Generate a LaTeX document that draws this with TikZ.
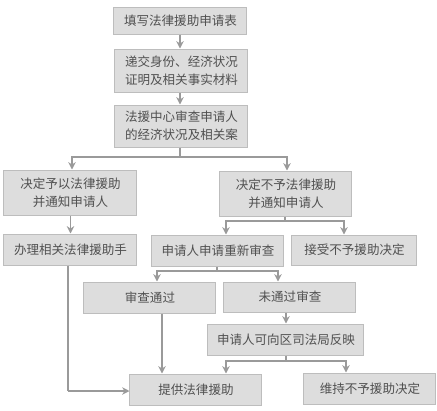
\documentclass[tikz,border=0pt]{standalone}
\usepackage{fontspec}
\setmainfont{Noto Sans CJK SC}
\usetikzlibrary{arrows.meta,calc}
\definecolor{boxfill}{HTML}{DDDDDD}
\definecolor{boxline}{HTML}{BDBDBD}
\definecolor{linec}{HTML}{9A9A9A}
\definecolor{txt}{HTML}{505050}
\begin{document}
\begin{tikzpicture}[x=0.75pt,y=-0.75pt,
  box/.style={draw=boxline,fill=boxfill,line width=0.75pt,inner sep=0pt,
    font=\fontsize{9.4pt}{13.5pt}\selectfont,text=txt,align=center},
  conn/.style={draw=linec,line width=0.9pt},
  arr/.style={conn,-{Stealth[length=5.5pt,width=5.5pt,inset=1.8pt]}}]
\useasboundingbox[fill=white] (0,0) rectangle (437,411);
\node[box,minimum width=99.75pt,minimum height=20.25pt] (b1) at (180.5,20.5) {填写法律援助申请表};
\node[box,minimum width=99.75pt,minimum height=32.25pt] (b2) at (181.5,70.5) {递交身份、经济状况\\证明及相关事实材料};
\node[box,minimum width=99.75pt,minimum height=31.5pt] (b3) at (181.5,126) {法援中心审查申请人\\的经济状况及相关案};
\node[box,minimum width=99.75pt,minimum height=33.75pt] (b4) at (70.5,192.5) {决定予以法律援助\\并通知申请人};
\node[box,minimum width=99pt,minimum height=33.75pt] (b5) at (286,193.5) {决定不予法律援助\\并通知申请人};
\node[box,minimum width=99.75pt,minimum height=23.25pt] (b6) at (70.5,249.5) {办理相关法律援助手};
\node[box,minimum width=99pt,minimum height=23.25pt] (b7) at (218,250.5) {申请人申请重新审查};
\node[box,minimum width=93.75pt,minimum height=22.5pt] (b8) at (354.5,250) {接受不予援助决定};
\node[box,minimum width=99pt,minimum height=23.25pt] (b9) at (150,297.5) {审查通过};
\node[box,minimum width=99pt,minimum height=22.5pt] (b10) at (290,297) {未通过审查};
\node[box,minimum width=117pt,minimum height=23.25pt] (b11) at (286,339.5) {申请人可向区司法局反映};
\node[box,minimum width=99pt,minimum height=23.25pt] (b12) at (196,389.5) {提供法律援助};
\node[box,minimum width=99pt,minimum height=23.25pt] (b13) at (370,388.5) {维持不予援助决定};
% junctions
\coordinate (j1) at (180,157);
\coordinate (j2) at (285,221);
\coordinate (j3) at (217,271);
\coordinate (j4) at (286,361);
\coordinate (j5) at (68,391);
% connectors
\draw[arr] ($(b1.south)+(-0.5,0)$) -- ($(b2.north)+(-1.5,0)$);
\draw[arr] ($(b2.south)+(-1.5,0)$) -- ($(b3.north)+(-1.5,0)$);
\draw[conn] ($(b3.south)+(-1.5,0)$) -- (j1);
\draw[arr] (j1) -| ($(b4.north)+(1.5,0)$);
\draw[arr] (j1) -| ($(b5.north)+(1,0)$);
\draw[arr] (b4.south) -- (b6.north);
\draw[conn] ($(b5.south)+(-1,0)$) -- (j2);
\draw[arr] (j2) -| ($(b7.north)+(8,0)$);
\draw[arr] (j2) -| ($(b8.north)+(-10.5,0)$);
\draw[conn] ($(b7.south)+(-1,0)$) -- (j3);
\draw[arr] (j3) -| ($(b9.north)+(7,0)$);
\draw[arr] (j3) -| ($(b10.north)+(-12,0)$);
\draw[arr] ($(b9.south)+(12,0)$) -- ($(b12.north)+(-34,0)$);
\draw[arr] ($(b10.south)+(-4,0)$) -- (b11.north);
\draw[conn] (b11.south) -- (j4);
\draw[arr] (j4) -| ($(b12.north)+(30,0)$);
\draw[arr] (j4) -| ($(b13.north)+(-24,0)$);
\draw[conn] ($(b6.south)+(-2.5,0)$) -- (j5);
\draw[arr] (j5) -- (j5 -| b12.west);
\end{tikzpicture}
\end{document}
